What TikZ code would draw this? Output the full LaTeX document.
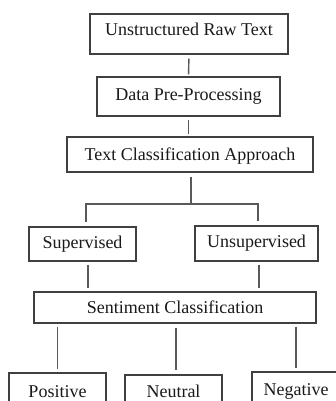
\documentclass[tikz,border=0pt]{standalone}
\usepackage{fontspec}
\setmainfont{Liberation Serif}
\begin{document}
\begin{tikzpicture}[x=1pt,y=-1pt,
  box/.style={draw=black!75, line width=1.3pt, inner sep=0pt, text=black!90,
    font=\fontsize{18}{20}\selectfont, text height=12pt, text depth=#1},
  link/.style={draw=black!65, line width=1.4pt}]
\useasboundingbox (0,0) rectangle (336,401);
\clip (0,0) rectangle (336,401);

% processing chain
\node[box=8pt, minimum width=198pt, minimum height=40pt] (raw) at (189,34) {Unstructured Raw Text};
\node[box=5pt, minimum width=183pt, minimum height=39pt] (pre) at (188.5,96.5) {Data Pre-Processing};
\node[box=1pt, minimum width=246pt, minimum height=35pt] (tca) at (190,154.5) {Text Classification Approach};

% learning approaches
\node[box=4pt, minimum width=107pt, minimum height=34pt] (sup) at (82.5,244) {Supervised};
\node[box=5pt, minimum width=123pt, minimum height=35pt] (uns) at (256.5,243.5) {Unsupervised};

\node[box=1pt, minimum width=282pt, minimum height=31pt] (sent) at (175,307.5) {Sentiment Classification};

% polarity classes
\node[box=14pt, minimum width=97pt, minimum height=50pt] (pos) at (57.5,398) {Positive};
\node[box=18pt, minimum width=97pt, minimum height=50pt] (neu) at (173.5,400) {Neutral};
\node[box=16pt, minimum width=88pt, minimum height=50pt] (neg) at (296,397) {Negative};

% connectors
\draw[link, shorten <=4pt, shorten >=2pt] (raw.south) -- (pre.north);
\draw[link, shorten <=3pt, shorten >=2pt] (pre.south) -- (pre.south |- tca.north);
\coordinate (fork) at (191,204);
\draw[link, shorten <=4pt] ([xshift=1pt]tca.south) -- (fork);
\draw[link, shorten >=4pt] (fork) -| ([xshift=3.5pt]sup.north);
\draw[link, shorten >=4pt] (fork) -| ([xshift=1.5pt]uns.north);

\draw[link, shorten <=3pt, shorten >=3pt] ([xshift=5.5pt]sup.south) -- ([xshift=5.5pt]sup.south |- sent.north);
\draw[link, shorten <=3pt, shorten >=3pt] ([xshift=2.5pt]uns.south) -- ([xshift=2.5pt]uns.south |- sent.north);

\draw[link, shorten <=3pt, shorten >=3pt] (pos.north |- sent.south) -- (pos.north);
\draw[link, shorten <=4pt, shorten >=4pt] ([xshift=2.5pt]neu.north |- sent.south) -- ([xshift=2.5pt]neu.north);
\draw[link, shorten <=3pt, shorten >=3pt] (neg.north |- sent.south) -- (neg.north);
\end{tikzpicture}
\end{document}
